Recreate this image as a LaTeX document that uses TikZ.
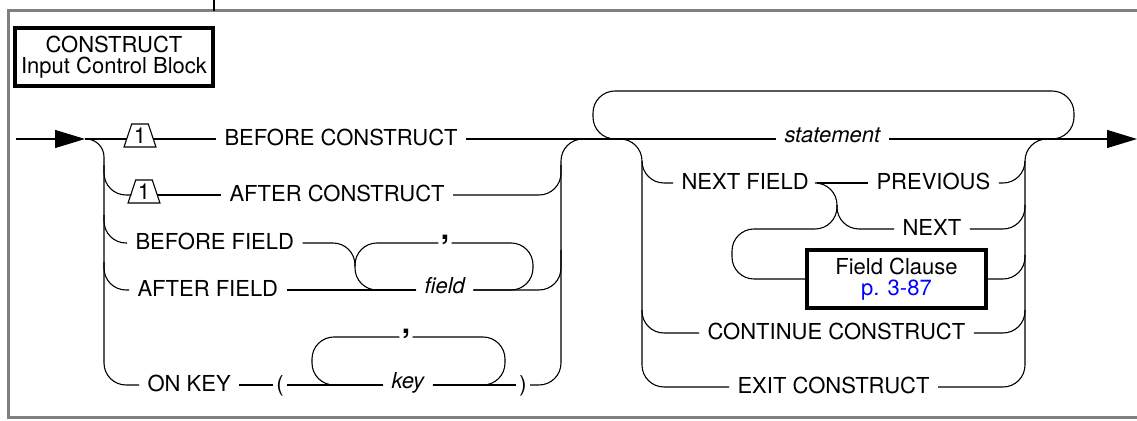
\documentclass[tikz,border=0pt]{standalone}
\usepackage{fontspec}
\setmainfont{TeX Gyre Heros}
\usetikzlibrary{arrows.meta}
\usetikzlibrary{shapes.geometric}

\newcommand{\sz}{\fontsize{11}{10.5}\selectfont}

\tikzset{
  kw/.style={font=\sz, inner xsep=4pt, inner ysep=0pt, text height=7.9pt, text depth=1.6pt},
  var/.style={kw, font=\sz\itshape, text height=5.8pt, text depth=2pt},
  punct/.style={kw, inner xsep=1.5pt},
  sep/.style={inner xsep=1pt, inner ysep=0pt, font=\fontsize{15}{15}\selectfont\bfseries, text height=0pt, text depth=3pt},
  trap/.style={draw, trapezium, trapezium angle=70, trapezium stretches=true, minimum width=16pt, minimum height=11.5pt, inner sep=0pt, font=\sz},
  refbox/.style={draw, line width=1.6pt, minimum width=99pt, minimum height=29pt, align=center, inner sep=0pt, font=\sz},
  rc/.style={rounded corners=11pt},
  flow/.style={-{Triangle[length=15pt,width=9pt]}},
}

\begin{document}
\begin{tikzpicture}[x=0.5pt, y=-0.5pt, line width=0.55pt]
\useasboundingbox (0,0) rectangle (1137,421);

%frame
\draw[gray, line width=1.5pt] (1145,11) -| (8,418) -- (1145,418);
\draw (214,0) -- (214,11);
\node[refbox] (title) at (114,57) {CONSTRUCT\\Input Control Block};

%left part
\coordinate (in) at (16,139);
\coordinate (j0) at (85,139);
\coordinate (lc) at (561,139);
\node[trap] (t1) at (140,135.5) {1};
\node[kw, anchor=west] (bc) at (216,139) {BEFORE CONSTRUCT};
\node[trap] (t2) at (144,191.5) {1};
\node[kw, anchor=west] (ac) at (221,195) {AFTER CONSTRUCT};
\node[kw, anchor=west] (bf) at (127,243) {BEFORE FIELD};
\node[kw, anchor=west] (af) at (129,290) {AFTER FIELD};
\node[sep] (fsep) at (445,243) {,};
\node[var, anchor=west] (fld) at (416,290) {field};
\node[kw, anchor=west] (ok) at (139,385) {ON KEY};
\node[punct] (lp) at (280,385) {(};
\node[sep] (ksep) at (406,337) {,};
\node[var, anchor=west] (key) at (383,385) {key};
\node[punct] (rp) at (523,385) {)};

\draw[flow] (in) -- (j0);
\draw (j0) -- (t1.west |- j0);
\draw (t1.east |- j0) -- (bc.west);
\draw[rounded corners=9pt] (j0) -| (104,300) [rounded corners=11pt] |- (ok.west);
\draw[rc] (104,165) |- (t2.west |- ac.west);
\draw (t2.east |- ac.west) -- (ac.west);
\draw[rc] (104,215) |- (bf.west);
\draw[rc] (104,262) |- (af.west);

%field loop
\draw[rc] (bf.east) -| (355,266);
\draw (af.east) -- (fld.west);
\draw[rc] (fsep.west) -| (355,290) -- (fld.west);
\draw[rc] (fsep.east) -| (533,290) -- (fld.east);
\draw[rc] (fld.east) -| (561,250);

%key loop
\draw (ok.east) -- (lp.west);
\draw (lp.east) -- (key.west);
\draw[rc] (ksep.west) -| (312,385) -- (key.west);
\draw[rc] (ksep.east) -| (505,385) -- (key.east);
\draw (key.east) -- (rp.west);
\draw[rc] (rp.east) -| (lc) -- (600,139);
\draw[rc] (ac.east) -| (561,165);

%right part
\coordinate (jr) at (600,139);
\coordinate (out) at (1137,139);
\node[var, anchor=west] (st) at (776,139) {statement};
\node[kw, anchor=west] (nf) at (673,183) {NEXT FIELD};
\node[kw, anchor=west] (pv) at (868,183) {PREVIOUS};
\node[kw, anchor=west] (nx) at (894,229) {NEXT};
\node[refbox, minimum width=89.5pt] (fc) at (896.5,279) {Field Clause\\\textcolor{blue}{p. 3-87}};
\node[kw, anchor=west] (cc) at (699,333) {CONTINUE CONSTRUCT};
\node[kw, anchor=west] (ec) at (729,387) {EXIT CONSTRUCT};

\draw (bc.east) -- (st.west);
\draw[flow] (st.east) -- (out);
\draw[rc] (640,139) -| (593,91) -| (1074,139) -- (1030,139);

\draw[rc] (jr) -| (642,300) |- (ec.west);
\draw[rc] (642,161) |- (nf.west);
\draw (nf.east) -- (pv.west);
\draw[rc] (pv.east) -| (1025,161);
\draw[rc] (nf.east) -| (837,229) -- (nx.west);
\draw[rc] (837,205) |- (732,229) -- (732,279) -- (fc.west);
\draw[rc] (nx.east) -| (1025,205);
\draw[rc] (fc.east) -| (1025,255);
\draw[rc] (642,310) |- (cc.west);
\draw[rc] (cc.east) -| (1025,310);
\draw[rc] (ec.east) -| (1025,139) -- (1060,139);
\end{tikzpicture}
\end{document}
